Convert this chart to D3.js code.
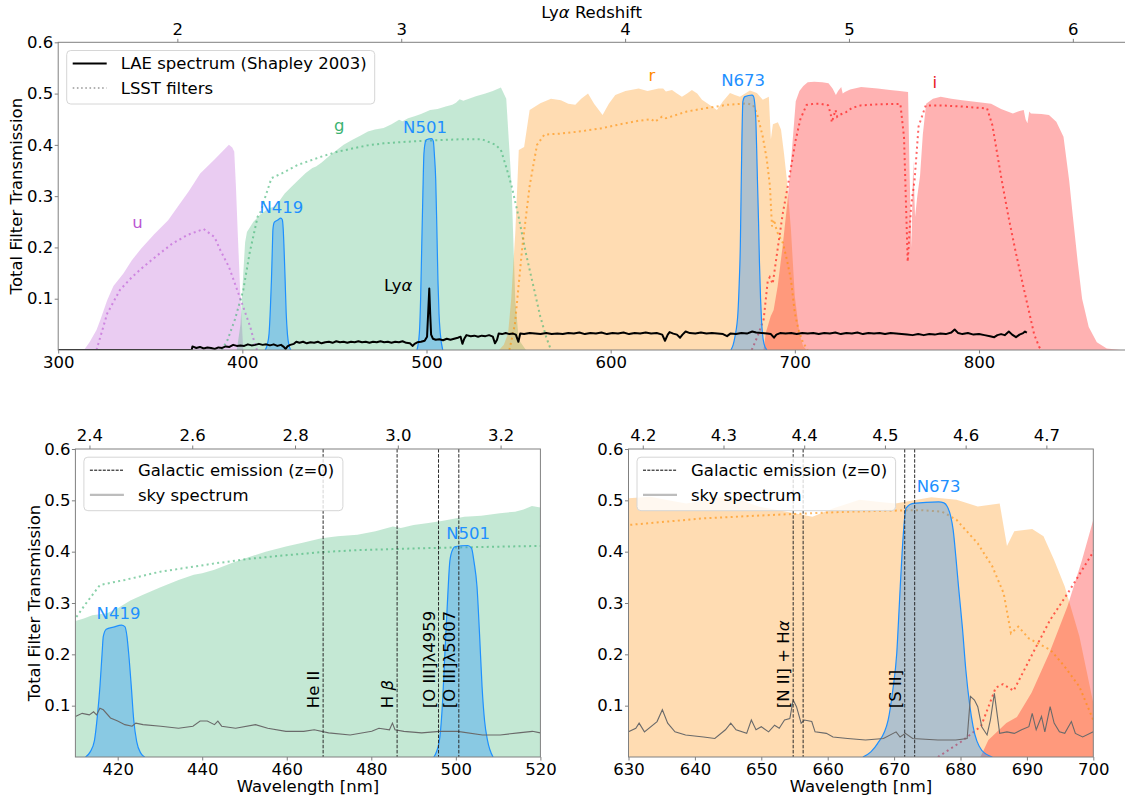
<!DOCTYPE html>
<html><head><meta charset="utf-8">
<script src="https://cdn.jsdelivr.net/npm/d3@7"></script>
<style>body{margin:0;background:#fff}svg text{font-family:"DejaVu Sans",sans-serif}</style>
</head><body><svg id="c" width="1125" height="797"></svg>
<script>
const LYA = 121.567;
const FS = 16.5;
// ---- filter transmission curves [wavelength nm, transmission] ----
const uFilter = [[314,0],[317,0.015],[320.8,0.039],[323,0.06],[326.6,0.097],[330,0.125],[335.4,0.149],[340,0.175],[345.1,0.198],[352,0.225],[359.7,0.253],[365,0.28],[371,0.31],[377.1,0.344],[385,0.372],[392.7,0.40],[394.5,0.395],[395.6,0.387],[396.5,0.32],[397.5,0.228],[399,0.1],[400.5,0]];
const gFilter = [[397,0],[399,0.05],[400.5,0.15],[401.5,0.21],[402.5,0.23],[406,0.25],[410,0.265],[412,0.27],[414,0.276],[417.5,0.28],[420,0.29],[423,0.305],[426,0.316],[430,0.33],[434.4,0.345],[438,0.355],[440,0.358],[442.9,0.365],[447,0.378],[451.3,0.39],[455,0.40],[459.8,0.41],[464,0.418],[468.2,0.426],[472,0.43],[476.7,0.433],[481,0.44],[485.1,0.449],[487,0.446],[490,0.452],[493.5,0.456],[497,0.46],[502,0.468],[506,0.47],[510.4,0.475],[514,0.478],[516,0.482],[518,0.489],[520,0.486],[526.8,0.495],[532,0.5],[536,0.505],[540.4,0.512],[543.3,0.49],[546.2,0.32],[548.2,0.097],[550.1,0.02],[554,0]];
const rFilter = [[539.4,0],[542,0.01],[544.3,0.032],[546,0.1],[548.2,0.228],[550.1,0.39],[553,0.396],[556,0.468],[561.8,0.481],[567.6,0.49],[573,0.487],[577,0.48],[580.8,0.478],[584,0.49],[587.7,0.50],[591,0.48],[595.6,0.458],[599,0.48],[602.5,0.497],[608,0.505],[615.2,0.51],[620,0.505],[626,0.51],[628.5,0.51],[630,0.504],[633.3,0.507],[636,0.50],[638.7,0.494],[641.5,0.50],[644.1,0.507],[647,0.50],[649.6,0.488],[652,0.482],[655,0.475],[657.7,0.468],[661,0.485],[664.8,0.501],[667.5,0.497],[670.2,0.494],[673,0.5],[675.6,0.506],[679.4,0.501],[682.6,0.488],[685.9,0.494],[687,0.411],[688.1,0.44],[690.8,0.444],[692.5,0.43],[694.1,0.384],[695.7,0.332],[697.9,0.235],[700,0.105],[702.5,0.032],[704.5,0.008],[706.4,0]];
const iFilter = [[683,0],[684.2,0.033],[686.9,0.066],[688.5,0.078],[690.7,0.125],[693.4,0.203],[696.1,0.293],[698.3,0.384],[700.5,0.485],[702.5,0.505],[704.6,0.515],[707,0.522],[710.5,0.523],[715,0.522],[718.3,0.52],[720.5,0.51],[722.3,0.497],[723.5,0.505],[725.2,0.513],[726,0.5],[727.2,0.503],[730,0.508],[736,0.513],[745,0.51],[751.7,0.507],[757,0.505],[761.5,0.503],[762.3,0.35],[763.3,0.2],[764.3,0.37],[765.3,0.26],[766.5,0.3],[768,0.34],[769.5,0.42],[771.3,0.48],[775,0.49],[779.2,0.494],[785,0.49],[790.9,0.487],[800,0.483],[806.6,0.48],[812,0.47],[818.4,0.461],[822,0.466],[824.3,0.468],[825.3,0.45],[826.3,0.442],[827.3,0.465],[828.2,0.461],[834,0.46],[838,0.458],[842,0.445],[845.9,0.416],[849,0.33],[851,0.26],[853.7,0.169],[856,0.1],[859.6,0.045],[864,0.015],[869.4,0.003],[877,0]];
// ---- LSST filter curves (dotted) ----
const uLSST = [[320.8,0],[326.6,0.071],[333.5,0.117],[340,0.142],[346.2,0.162],[354,0.185],[361.8,0.207],[370,0.224],[379,0.236],[384.9,0.22],[388,0.195],[392.7,0.162],[398.5,0.104],[404.3,0.045],[407.2,0.006],[408,0]];
const gLSST = [[388.8,0],[392,0.02],[396,0.06],[400.5,0.117],[404,0.19],[408.3,0.26],[410,0.27],[412.4,0.298],[415.8,0.335],[421.7,0.345],[430.1,0.361],[442.9,0.377],[451,0.386],[459.8,0.393],[468,0.399],[476.7,0.403],[485,0.405],[493.5,0.407],[505,0.409],[518.8,0.411],[530,0.411],[537.5,0.40],[540.4,0.39],[543,0.36],[546.2,0.32],[550,0.26],[554,0.188],[558,0.125],[561.8,0.065],[565,0.025],[567.6,0]];
const rLSST = [[545,0],[548,0.05],[552,0.2],[556,0.32],[560,0.4],[564,0.42],[573,0.422],[585,0.427],[594.6,0.432],[605,0.44],[615,0.447],[622,0.45],[624,0.445],[627.9,0.455],[630,0.452],[641.4,0.465],[652.3,0.472],[663.2,0.478],[674,0.481],[677.2,0.478],[679.4,0.462],[682.6,0.416],[684.8,0.371],[686.5,0.319],[687.6,0.241],[688.7,0.254],[690.3,0.231],[693.6,0.208],[695.7,0.176],[697.9,0.137],[700,0.072],[702,0.04],[704.4,0.015],[707,0]];
const iLSST = [[676.6,0],[679.9,0.028],[683.1,0.06],[685.3,0.135],[686.4,0.142],[688,0.129],[690.8,0.2],[693.5,0.267],[696.2,0.32],[698.3,0.364],[700.5,0.41],[703,0.45],[706.4,0.478],[710,0.48],[714.2,0.48],[718.1,0.477],[719.5,0.46],[720.1,0.444],[721,0.455],[722.1,0.468],[723,0.455],[724,0.458],[727.9,0.464],[731,0.472],[735.8,0.477],[745,0.479],[757.3,0.48],[759.3,0.415],[761.3,0.172],[763.2,0.283],[765,0.33],[767.2,0.436],[771.1,0.477],[778.9,0.477],[790,0.475],[804.4,0.471],[807.3,0.438],[812.2,0.334],[816,0.26],[820,0.19],[824,0.125],[827.8,0.065],[830,0.03],[832.7,0.006],[834,0]];
// ---- narrow-band filters ----
const n419 = [[412.4,0],[413.5,0.01],[414.5,0.032],[415.2,0.08],[415.8,0.137],[416.3,0.2],[416.6,0.235],[417.3,0.249],[419,0.253],[420.9,0.257],[421.7,0.254],[422.2,0.235],[422.6,0.202],[423.2,0.14],[423.8,0.072],[424.5,0.03],[425.5,0.007],[426.4,0]];
const n501 = [[494.8,0],[496.1,0.032],[496.8,0.1],[497.4,0.201],[498,0.3],[498.6,0.383],[499.3,0.405],[499.9,0.41],[502.8,0.412],[503.7,0.407],[504.3,0.38],[505,0.332],[505.6,0.24],[506.2,0.137],[506.8,0.07],[507.5,0.032],[508.8,0]];
const n673 = [[665.3,0],[666.5,0.01],[667.5,0.026],[669.1,0.072],[669.8,0.13],[670.4,0.202],[670.8,0.3],[671.2,0.397],[671.8,0.485],[672.9,0.494],[676.7,0.497],[677.5,0.495],[678,0.488],[678.5,0.47],[678.9,0.442],[679.3,0.39],[679.7,0.332],[680.3,0.25],[680.8,0.17],[681.4,0.1],[681.9,0.059],[683.2,0.013],[684.8,0]];
// ---- LAE spectrum (Shapley 2003), arbitrary scaling ----
const laeSpectrum = [[300,0],[372.5,0],[372.9,0.007],[375,0.004],[377,0.006],[379,0.003],[381,0.005],[383,0.004],[385,0.002],[387,0.005],[389,0.004],[391,0.007],[393,0.006],[395,0.01],[397,0.008],[399,0.009],[401,0.008],[403,0.011],[405,0.009],[407,0.01],[409,0.012],[411,0.01],[413,0.011],[415,0.009],[417,0.011],[419,0.008],[421,0.01],[422.5,0.006],[423.5,0.002],[424.5,0.007],[426,0.01],[428,0.012],[429.3,0.016],[431,0.014],[433,0.016],[435,0.013],[437,0.015],[439,0.014],[441,0.016],[443,0.013],[445,0.015],[447,0.016],[449,0.014],[451,0.017],[453,0.015],[455,0.016],[457,0.014],[459,0.016],[461,0.015],[463,0.017],[465,0.015],[467,0.016],[469,0.014],[471,0.016],[473,0.015],[475,0.017],[477,0.015],[479,0.016],[481,0.014],[483,0.016],[485,0.015],[487,0.017],[489,0.014],[491,0.013],[492.5,0.008],[493.5,0.012],[495,0.015],[497,0.016],[499,0.018],[500.3,0.026],[501,0.08],[501.5,0.12],[502,0.07],[502.5,0.03],[503.5,0.022],[505,0.02],[507,0.021],[509,0.019],[511,0.022],[513,0.02],[515,0.022],[517,0.024],[518.5,0.026],[519.5,0.012],[520.5,0.022],[521.7,0.029],[524,0.027],[526,0.028],[528,0.026],[530,0.028],[532,0.027],[534,0.029],[536,0.026],[537.2,0.013],[538.3,0.02],[539.2,0.032],[541,0.031],[543,0.033],[545,0.031],[547,0.032],[548.5,0.03],[549.9,0.016],[550.9,0.032],[553,0.031],[556,0.033],[559,0.032],[562,0.031],[565,0.033],[568,0.031],[571,0.032],[574,0.031],[577,0.033],[580,0.032],[583,0.034],[586,0.031],[589,0.033],[592,0.032],[595,0.034],[598,0.031],[601,0.033],[604,0.032],[607,0.034],[610,0.031],[613,0.033],[616,0.032],[619,0.034],[622,0.032],[625,0.033],[628,0.03],[629.5,0.018],[631,0.03],[632,0.035],[634,0.032],[636,0.03],[637.7,0.024],[639,0.03],[640.7,0.036],[643,0.033],[646,0.032],[649,0.034],[652,0.032],[655,0.033],[658,0.032],[661,0.031],[663.2,0.027],[665,0.032],[668,0.031],[671,0.033],[674,0.032],[676.9,0.036],[679,0.034],[682,0.033],[685,0.032],[687,0.031],[688.7,0.024],[690,0.03],[692,0.033],[695,0.032],[698,0.033],[701,0.031],[704,0.033],[707,0.032],[710,0.033],[713,0.031],[716,0.033],[719,0.032],[722,0.034],[725,0.031],[728,0.033],[731,0.032],[734,0.034],[737,0.031],[740,0.033],[743,0.032],[746,0.033],[749,0.031],[752,0.033],[755,0.032],[758,0.031],[761,0.03],[764,0.029],[767,0.031],[770,0.029],[773,0.031],[776,0.03],[779,0.032],[782,0.031],[785,0.034],[786.8,0.04],[788.7,0.033],[791,0.031],[794,0.033],[797,0.03],[800,0.031],[803,0.029],[806,0.027],[808.3,0.025],[810,0.029],[812,0.031],[814,0.029],[816.2,0.036],[818,0.03],[820.1,0.025],[822,0.03],[824,0.033],[825,0.036],[826,0.034]];
// ---- sky spectrum ----
const skyBlue = [[410,0.079],[411.6,0.085],[413.3,0.082],[414.3,0.088],[415,0.082],[415.8,0.095],[416.6,0.092],[418.3,0.076],[420,0.07],[421.7,0.063],[423.4,0.06],[424.3,0.066],[426,0.063],[430.2,0.06],[434.4,0.056],[437.8,0.06],[439.5,0.07],[441.2,0.07],[442.9,0.063],[443.7,0.07],[444.6,0.06],[447.9,0.056],[452.6,0.063],[455.5,0.056],[459.8,0.05],[464,0.05],[466.5,0.053],[469.9,0.047],[475,0.043],[480.1,0.05],[481.8,0.056],[484.3,0.053],[485,0.066],[485.6,0.053],[487.7,0.05],[491.9,0.047],[496.2,0.05],[500.4,0.05],[506.3,0.043],[510.5,0.043],[514.8,0.047],[518.1,0.05],[520,0.047]];
const skyRed = [[630,0.049],[631.1,0.056],[631.6,0.066],[632.4,0.049],[634.3,0.069],[635.1,0.092],[635.9,0.066],[637,0.049],[638.6,0.043],[641.3,0.039],[643,0.036],[644.6,0.053],[645.4,0.066],[646.2,0.053],[647.8,0.046],[648.5,0.072],[649.2,0.053],[650,0.059],[651.1,0.049],[652,0.062],[652.7,0.056],[653.5,0.072],[654.3,0.075],[654.8,0.111],[655.3,0.098],[656,0.066],[656.5,0.072],[657.6,0.069],[658.1,0.049],[659.8,0.046],[660.8,0.039],[663,0.036],[665.7,0.033],[668.4,0.036],[670.3,0.049],[670.9,0.039],[671.7,0.046],[672.8,0.036],[676.6,0.033],[679.3,0.033],[681,0.036],[681.5,0.118],[682.1,0.111],[682.6,0.098],[683.2,0.059],[684,0.043],[684.5,0.072],[685.1,0.124],[685.5,0.085],[685.9,0.046],[687,0.049],[688.1,0.046],[689.2,0.053],[690.3,0.059],[690.8,0.085],[691.4,0.053],[692.2,0.079],[692.7,0.049],[693.5,0.098],[694.1,0.066],[694.9,0.049],[695.7,0.046],[696.7,0.069],[697.3,0.046],[698.4,0.039],[700,0.049]];
// ---- galactic emission lines (z=0), nm ----
const galacticLines = [468.6, 486.1, 495.9, 500.7, 654.8, 656.3, 671.6, 673.1];
const galacticLabels = [["He II",468.6],["H β",486.1],["[O III]λ4959",495.9],["[O III]λ5007",500.7],["[N II] + Hα",654.8],["[S II]",671.6]];
// ---- ticks ----
const topWlTicks = [300,400,500,600,700,800];
const blueWlTicks = [420,440,460,480,500,520];
const redWlTicks = [630,640,650,660,670,680,690,700];
const topZTicks = [2,3,4,5,6];
const blueZTicks = [2.4,2.6,2.8,3.0,3.2];
const redZTicks = [4.2,4.3,4.4,4.5,4.6,4.7];
const yTicks = [0.1,0.2,0.3,0.4,0.5,0.6];

const COL = {u:"#BA55D3", g:"#3CB371", r:"#FF8C00", i:"#FF0000", nb:"#1E90FF"};
const broad = [["u",uFilter],["g",gFilter],["r",rFilter],["i",iFilter]];
const lsst = [["u",uLSST],["g",gLSST],["r",rLSST],["i",iLSST]];
const narrow = [n419, n501, n673];

const svg = d3.select("#c");
const defs = svg.append("defs");

function rich(sel, s) {
  s.split(/([αβ])/).forEach(pt => {
    if (!pt) return;
    const t = sel.append("tspan").text(pt);
    if (pt === "α" || pt === "β") t.attr("font-style", "italic");
  });
}

const panels = [
  {id:"top", xd:[300,880], xr:[58.2,1126.3], yr:[350,42.3], wl:topWlTicks, z:topZTicks, zf:d3.format("d"),
   ylabX:16, xlabel:false, lae:true, sky:null, legend:"lae", legW:308,
   labels:[["u",343.1,0.25,COL.u],["g",452.6,0.4386,COL.g],["N419",421.2,0.2793,COL.nb],["N501",499.2,0.4353,COL.nb],
           ["Lyα",484.6,0.1267,"#000"],["r",622.4,0.536,COL.r],["N673",671.9,0.5263,COL.nb],["i",776.0,0.523,"#E8141C"]]},
  {id:"bl", xd:[410,520], xr:[75.4,540.4], yr:[757,449], wl:blueWlTicks, z:blueZTicks, zf:d3.format(".1f"),
   ylabX:34, xlabel:true, lae:false, sky:skyBlue, legend:"gal", legW:259,
   labels:[["N419",420.2,0.281,COL.nb],["N501",502.9,0.436,COL.nb]]},
  {id:"br", xd:[630,700], xr:[628.5,1093.3], yr:[757,449], wl:redWlTicks, z:redZTicks, zf:d3.format(".1f"),
   ylabX:null, xlabel:true, lae:false, sky:skyRed, legend:"gal", legW:258.6,
   labels:[["N673",676.7,0.527,COL.nb]]}
];

panels.forEach(p => {
  const x = d3.scaleLinear().domain(p.xd).range(p.xr);
  const y = d3.scaleLinear().domain([0,0.6]).range(p.yr);
  const zs = d3.scaleLinear().domain(p.xd.map(l => l/LYA - 1)).range(p.xr);
  const L = p.xr[0], R = p.xr[1], T = p.yr[1], B = p.yr[0];
  defs.append("clipPath").attr("id","clip-"+p.id).append("rect")
    .attr("x",L).attr("y",T).attr("width",R-L).attr("height",B-T);
  const g = svg.append("g");
  const c = g.append("g").attr("clip-path",`url(#clip-${p.id})`);
  const area = d3.area().x(d=>x(d[0])).y0(y(0)).y1(d=>y(d[1]));
  const line = d3.line().x(d=>x(d[0])).y(d=>y(d[1]));
  const areaS = d3.area().curve(d3.curveMonotoneX).x(d=>x(d[0])).y0(y(0)).y1(d=>y(d[1]));
  const lineS = d3.line().curve(d3.curveMonotoneX).x(d=>x(d[0])).y(d=>y(d[1]));

  broad.forEach(([k,d]) => c.append("path").datum(d).attr("d",area).attr("fill",COL[k]).attr("fill-opacity",0.3));
  lsst.forEach(([k,d]) => c.append("path").datum(d).attr("d",line).attr("fill","none")
    .attr("stroke",COL[k]).attr("stroke-opacity",0.6).attr("stroke-width",2).attr("stroke-dasharray","2,3.3"));
  narrow.forEach(d => {
    c.append("path").datum(d).attr("d",areaS).attr("fill",COL.nb).attr("fill-opacity",0.35);
    c.append("path").datum(d).attr("d",lineS).attr("fill","none").attr("stroke",COL.nb).attr("stroke-width",1.2);
  });
  if (p.sky) c.append("path").datum(p.sky).attr("d",line).attr("fill","none").attr("stroke","#6a6a6a").attr("stroke-width",1.1);
  if (!p.lae) {
    galacticLines.forEach(wl => c.append("line").attr("x1",x(wl)).attr("x2",x(wl)).attr("y1",T).attr("y2",B)
      .attr("stroke","#2a2a2a").attr("stroke-width",1).attr("stroke-dasharray","3.5,1.6"));
    galacticLabels.forEach(([s,wl]) => {
      if (wl < p.xd[0] || wl > p.xd[1]) return;
      const t = g.append("text").attr("transform",`translate(${x(wl)-3.7},${y(0.095)}) rotate(-90)`)
        .attr("font-size",FS).attr("fill","#000");
      rich(t, s);
    });
  }
  if (p.lae) c.append("path").datum(laeSpectrum).attr("d",line).attr("fill","none").attr("stroke","#000")
    .attr("stroke-width",2).attr("stroke-linejoin","round");

  p.labels.forEach(([s,wl,tv,col]) => {
    const t = g.append("text").attr("x",x(wl)).attr("y",y(tv)).attr("dy","0.36em").attr("text-anchor","middle")
      .attr("font-size",FS).attr("fill",col);
    rich(t, s);
  });

  // frame
  g.append("rect").attr("x",L).attr("y",T).attr("width",R-L).attr("height",B-T)
    .attr("fill","none").attr("stroke","#808080").attr("stroke-width",1);

  const style = sel => {
    sel.select(".domain").remove();
    sel.selectAll(".tick line").attr("stroke","#808080");
    sel.selectAll(".tick text").attr("font-size",FS).attr("fill","#000").attr("font-family","DejaVu Sans");
  };
  g.append("g").attr("transform",`translate(0,${B})`)
    .call(d3.axisBottom(x).tickValues(p.wl).tickFormat(d3.format("d")).tickSize(3.5).tickPadding(2.5)).call(style);
  g.append("g").attr("transform",`translate(0,${T})`)
    .call(d3.axisTop(zs).tickValues(p.z).tickFormat(p.zf).tickSize(3.5).tickPadding(4.2)).call(style);
  g.append("g").attr("transform",`translate(${L},0)`)
    .call(d3.axisLeft(y).tickValues(yTicks).tickFormat(d3.format(".1f")).tickSize(3.5).tickPadding(1.5)).call(style);

  if (p.ylabX !== null) {
    g.append("text").attr("transform",`translate(${p.ylabX},${(T+B)/2}) rotate(-90)`).attr("dy","0.36em")
      .attr("text-anchor","middle").attr("font-size",FS).attr("fill","#000").text("Total Filter Transmission");
  }
  if (p.xlabel) {
    g.append("text").attr("x",(L+R)/2).attr("y",791.5).attr("text-anchor","middle").attr("font-size",FS)
      .attr("fill","#000").text("Wavelength [nm]");
  }
  if (p.id === "top") {
    const t = g.append("text").attr("x",(L+1125)/2).attr("y",18).attr("text-anchor","middle").attr("font-size",FS).attr("fill","#000");
    rich(t, "Lyα Redshift");
  }

  // legend
  const lg = g.append("g").attr("transform",`translate(${L+8.5},${T+8.2})`);
  lg.append("rect").attr("width",p.legW).attr("height",53.5).attr("rx",4)
    .attr("fill","#fff").attr("fill-opacity",0.8).attr("stroke","#d6d6d6").attr("stroke-width",1);
  const rows = p.legend === "lae"
    ? [["LAE spectrum (Shapley 2003)",{stroke:"#000",w:2,dash:null}],["LSST filters",{stroke:"#999",w:1.5,dash:"1.6,2.6"}]]
    : [["Galactic emission (z=0)",{stroke:"#000",w:1,dash:"3,1.3"}],["sky spectrum",{stroke:"#bdbdbd",w:2.2,dash:null}]];
  rows.forEach(([txt,st],i) => {
    const yy = 13 + i*24.6;
    const ln = lg.append("line").attr("x1",6).attr("x2",40).attr("y1",yy).attr("y2",yy)
      .attr("stroke",st.stroke).attr("stroke-width",st.w);
    if (st.dash) ln.attr("stroke-dasharray",st.dash);
    lg.append("text").attr("x",54).attr("y",yy).attr("dy","0.36em").attr("font-size",FS).attr("fill","#000").text(txt);
  });
});
</script>
</body></html>
